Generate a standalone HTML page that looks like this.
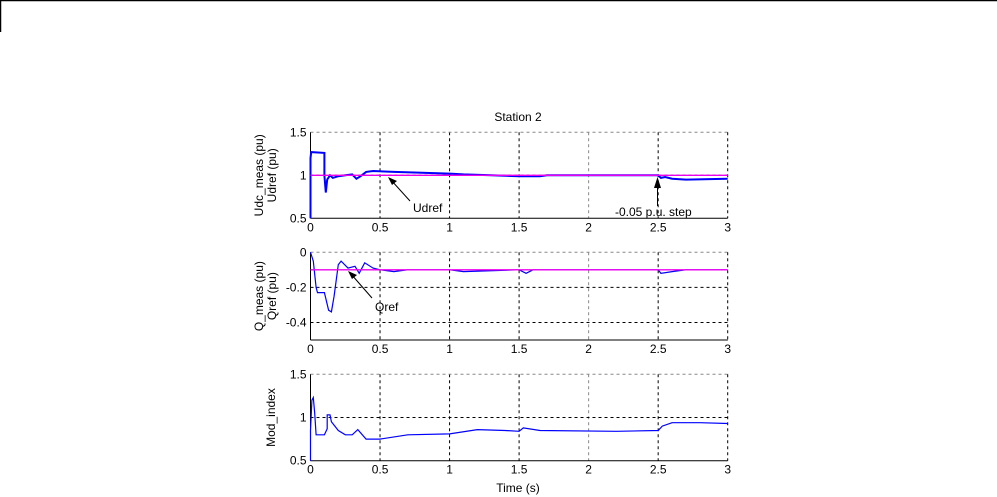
<!DOCTYPE html>
<html><head><meta charset="utf-8"><style>
html,body{margin:0;padding:0;background:#fff;}
svg{display:block;font-family:"Liberation Sans",Arial,sans-serif;font-size:12px;}
</style></head><body>
<svg id="s" width="997" height="497" xmlns="http://www.w3.org/2000/svg">
<line x1="0" y1="0.5" x2="997" y2="0.5" stroke="#000" stroke-width="1.5"/>
<line x1="0.5" y1="0" x2="0.5" y2="32" stroke="#000" stroke-width="1.5"/>
<text x="518" y="121" text-anchor="middle">Station 2</text>
<text x="518" y="492" text-anchor="middle">Time (s)</text>
</svg>
<script>
const s=document.getElementById('s');const NS='http://www.w3.org/2000/svg';
function el(n,a,t){const e=document.createElementNS(NS,n);for(const k in a)e.setAttribute(k,a[k]);if(t!==undefined)e.textContent=t;s.appendChild(e);return e;}
const X0=310.5,X1=727.7;
function px(t){return X0+(X1-X0)*t/3;}
function axis(top,bot,ymin,ymax,yt,ylabs,labs){
 const py=v=>bot-(bot-top)*(v-ymin)/(ymax-ymin);
 // grids
 for(const t of [0.5,1,1.5,2,2.5]){el('line',{x1:px(t),x2:px(t),y1:top,y2:bot,stroke:t==2?'#888':'#000','stroke-dasharray':'3,3','stroke-width':1});}
 for(const v of yt){if(v==ymin)continue;el('line',{x1:X0,x2:X1,y1:py(v),y2:py(v),stroke:v==ymax?'#888':'#000','stroke-dasharray':'3,3'});}
 el('line',{x1:X1,x2:X1,y1:top,y2:bot,stroke:'#000','stroke-dasharray':'3,3'});
 el('line',{x1:X0,x2:X0,y1:top,y2:bot,stroke:'#000'});
 el('line',{x1:X0,x2:X1,y1:bot,y2:bot,stroke:'#000'});
 for(const t of [0,0.5,1,1.5,2,2.5,3])el('text',{x:px(t),y:bot+13,'text-anchor':'middle'},String(t));
 yt.forEach((v,i)=>el('text',{x:X0-4,y:py(v)+4,'text-anchor':'end'},labs[i]));
 ylabs.forEach((l,i)=>{const x=ylabs.length==2?(i==0?263:276):275;const y=(top+bot)/2;el('text',{x:x,y:y,'text-anchor':'middle',transform:`rotate(-90 ${x} ${y})`},l);});
 return py;
}
function line(py,d,col,w){el('polyline',{points:d.map(p=>px(p[0]).toFixed(1)+','+py(p[1]).toFixed(1)).join(' '),fill:'none',stroke:col,'stroke-width':w});}
let py=axis(132.3,218.3,0.5,1.5,[1.5,1,0.5],['Udc_meas (pu)','Udref (pu)'],['1.5','1','0.5']);
line(py,[[0,0.5],[0,1.2],[0.005,1.27],[0.1,1.26],[0.1,1.0],[0.11,0.8],[0.12,0.95],[0.14,1.0],[0.16,0.97],[0.2,0.99],[0.25,1.0],[0.3,1.01],[0.33,0.96],[0.36,0.99],[0.4,1.04],[0.45,1.05],[0.6,1.04],[0.8,1.03],[1.0,1.02],[1.1,1.01],[1.3,1.0],[1.5,0.99],[1.65,0.99],[1.7,1.0],[2.0,1.0],[2.5,1.0],[2.52,0.97],[2.55,0.98],[2.6,0.96],[2.7,0.95],[3,0.96]],'#00f',2);
line(py,[[0,1],[3,1]],'#e0e',1.3);
el('line',{x1:410,y1:201,x2:391,y2:180,stroke:'#000'});
el('polygon',{points:'388,177 397,181 392,185',fill:'#000'});
el('text',{x:413,y:212},'Udref');
el('line',{x1:657.5,y1:206,x2:657.5,y2:180,stroke:'#000'});
el('polygon',{points:'657.5,177 661,188 654,188',fill:'#000'});
el('text',{x:615,y:216},'-0.05 p.u. step');
py=axis(252.3,340,-0.5,0,[0,-0.2,-0.4],['Q_meas (pu)','Qref (pu)'],['0','-0.2','-0.4']);
el('line',{x1:X0,x2:X1,y1:py(-0.5),y2:py(-0.5),stroke:'#000'});
line(py,[[0,0],[0.02,-0.05],[0.04,-0.2],[0.05,-0.23],[0.1,-0.23],[0.13,-0.33],[0.15,-0.34],[0.17,-0.25],[0.2,-0.07],[0.22,-0.05],[0.27,-0.09],[0.32,-0.08],[0.35,-0.12],[0.39,-0.06],[0.45,-0.09],[0.5,-0.1],[0.6,-0.11],[0.7,-0.1],[1.0,-0.1],[1.1,-0.11],[1.5,-0.1],[1.55,-0.12],[1.6,-0.1],[2.5,-0.1],[2.52,-0.12],[2.6,-0.11],[2.7,-0.1],[3,-0.1]],'#00f',1.2);
line(py,[[0,-0.1],[3,-0.1]],'#e0e',1.3);
el('line',{x1:372,y1:298,x2:351,y2:274,stroke:'#000'});
el('polygon',{points:'348,271 357,275 352,279',fill:'#000'});
el('text',{x:375,y:311},'Qref');
py=axis(374.3,460.7,0.5,1.5,[1.5,1,0.5],['Mod_index'],['1.5','1','0.5']);
line(py,[[0,0.5],[0,0.85],[0.01,1.2],[0.02,1.23],[0.03,1.05],[0.04,0.8],[0.1,0.8],[0.12,0.87],[0.12,1.03],[0.14,1.03],[0.15,0.95],[0.2,0.85],[0.25,0.8],[0.3,0.8],[0.34,0.86],[0.4,0.75],[0.5,0.75],[0.7,0.8],[1.0,0.81],[1.2,0.86],[1.4,0.85],[1.5,0.84],[1.53,0.88],[1.65,0.85],[2.2,0.84],[2.5,0.85],[2.53,0.9],[2.6,0.94],[2.8,0.94],[3,0.93]],'#00f',1.2);
</script>
</body></html>
